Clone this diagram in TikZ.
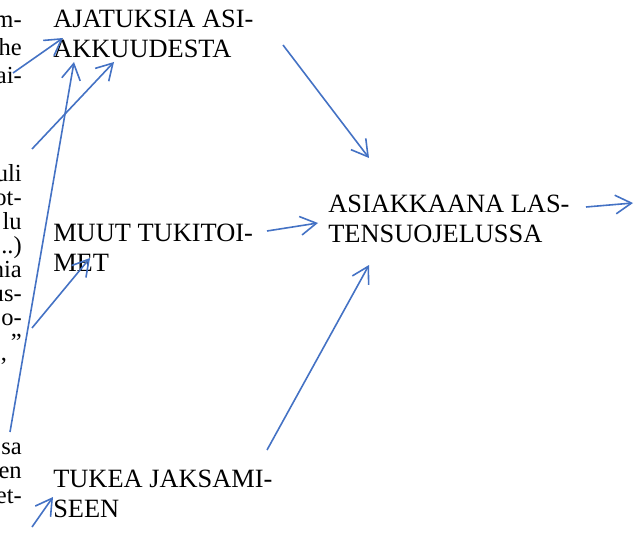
\documentclass[tikz,border=0pt]{standalone}
\usepackage{fontspec}
\setmainfont{Liberation Serif}
\usetikzlibrary{arrows.meta}

\begin{document}
\begin{tikzpicture}[x=0.75pt,y=0.75pt,yscale=-1,xscale=1,
  flow/.style={draw={rgb,255:red,68;green,114;blue,196},line width=1.2pt,
    -{Straight Barb[length=12pt,width=14pt,line width=1.2pt]}},
  boxtext/.style={inner sep=0pt,align=left,anchor=base west,
    font=\fontsize{19.8pt}{22.5pt}\selectfont},
  cuttext/.style={inner sep=0pt,anchor=base east,
    font=\fontsize{18.4pt}{20pt}\selectfont}]
\useasboundingbox (0,0) rectangle (635,559);

% Text Node (placed by the baseline of its last line)
\node[boxtext] (ajatuksia) at (53,58) {AJATUKSIA ASI-\\AKKUUDESTA};
% Text Node
\node[boxtext] (muut) at (53,272) {MUUT TUKITOI-\\MET};
% Text Node
\node[boxtext] (tukea) at (53,517) {TUKEA JAKSAMI-\\SEEN};
% Text Node
\node[boxtext] (asiakkaana) at (328,243) {ASIAKKAANA LAS-\\TENSUOJELUSSA};

% Text Node (cut paragraph on the left)
\node[cuttext] (cut1) at (22,28) {m-};
\node[cuttext] (cut2) at (22,56) {he};
\node[cuttext] (cut3) at (22,84) {ai-};
\node[cuttext] (cut4) at (22,182) {uli};
\node[cuttext] (cut5) at (22,206) {ot-};
\node[cuttext] (cut6) at (22,230) {lu};
\node[cuttext] (cut7) at (22,254) {..)};
\node[cuttext] (cut8) at (22,278) {nia};
\node[cuttext] (cut9) at (22,302) {us-};
\node[cuttext] (cut10) at (22,326) {o-};
\node[cuttext] (cut11) at (22,350) {”};
\node[cuttext] (cut12) at (8,374) {’};
\node[cuttext] (cut13) at (22,454) {sa};
\node[cuttext] (cut14) at (22,478) {en};
\node[cuttext] (cut15) at (22,503) {et-};

% Arrow ends
\coordinate (a1s) at (13,73);   \coordinate (a1e) at (63,38);
\coordinate (a2s) at (10,432);  \coordinate (a2e) at (74,62);
\coordinate (a3s) at (32,149);  \coordinate (a3e) at (114,62);
\coordinate (a4s) at (32,328);  \coordinate (a4e) at (90,258);
\coordinate (a5s) at (32,527);  \coordinate (a5e) at (53,497);
\coordinate (a6s) at (283,45);  \coordinate (a6e) at (369,158);
\coordinate (a7s) at (267,231); \coordinate (a7e) at (318,223);
\coordinate (a8s) at (586,207); \coordinate (a8e) at (633,203);
\coordinate (a9s) at (267,450); \coordinate (a9e) at (369,265);

%Straight Lines
\draw[flow] (a1s) -- (a1e);
%Straight Lines
\draw[flow] (a2s) -- (a2e);
%Straight Lines
\draw[flow] (a3s) -- (a3e);
%Straight Lines
\draw[flow] (a4s) -- (a4e);
%Straight Lines
\draw[flow] (a5s) -- (a5e);
%Straight Lines
\draw[flow] (a6s) -- (a6e);
%Straight Lines
\draw[flow] (a7s) -- (a7e);
%Straight Lines
\draw[flow] (a8s) -- (a8e);
%Straight Lines
\draw[flow] (a9s) -- (a9e);

\end{tikzpicture}
\end{document}
